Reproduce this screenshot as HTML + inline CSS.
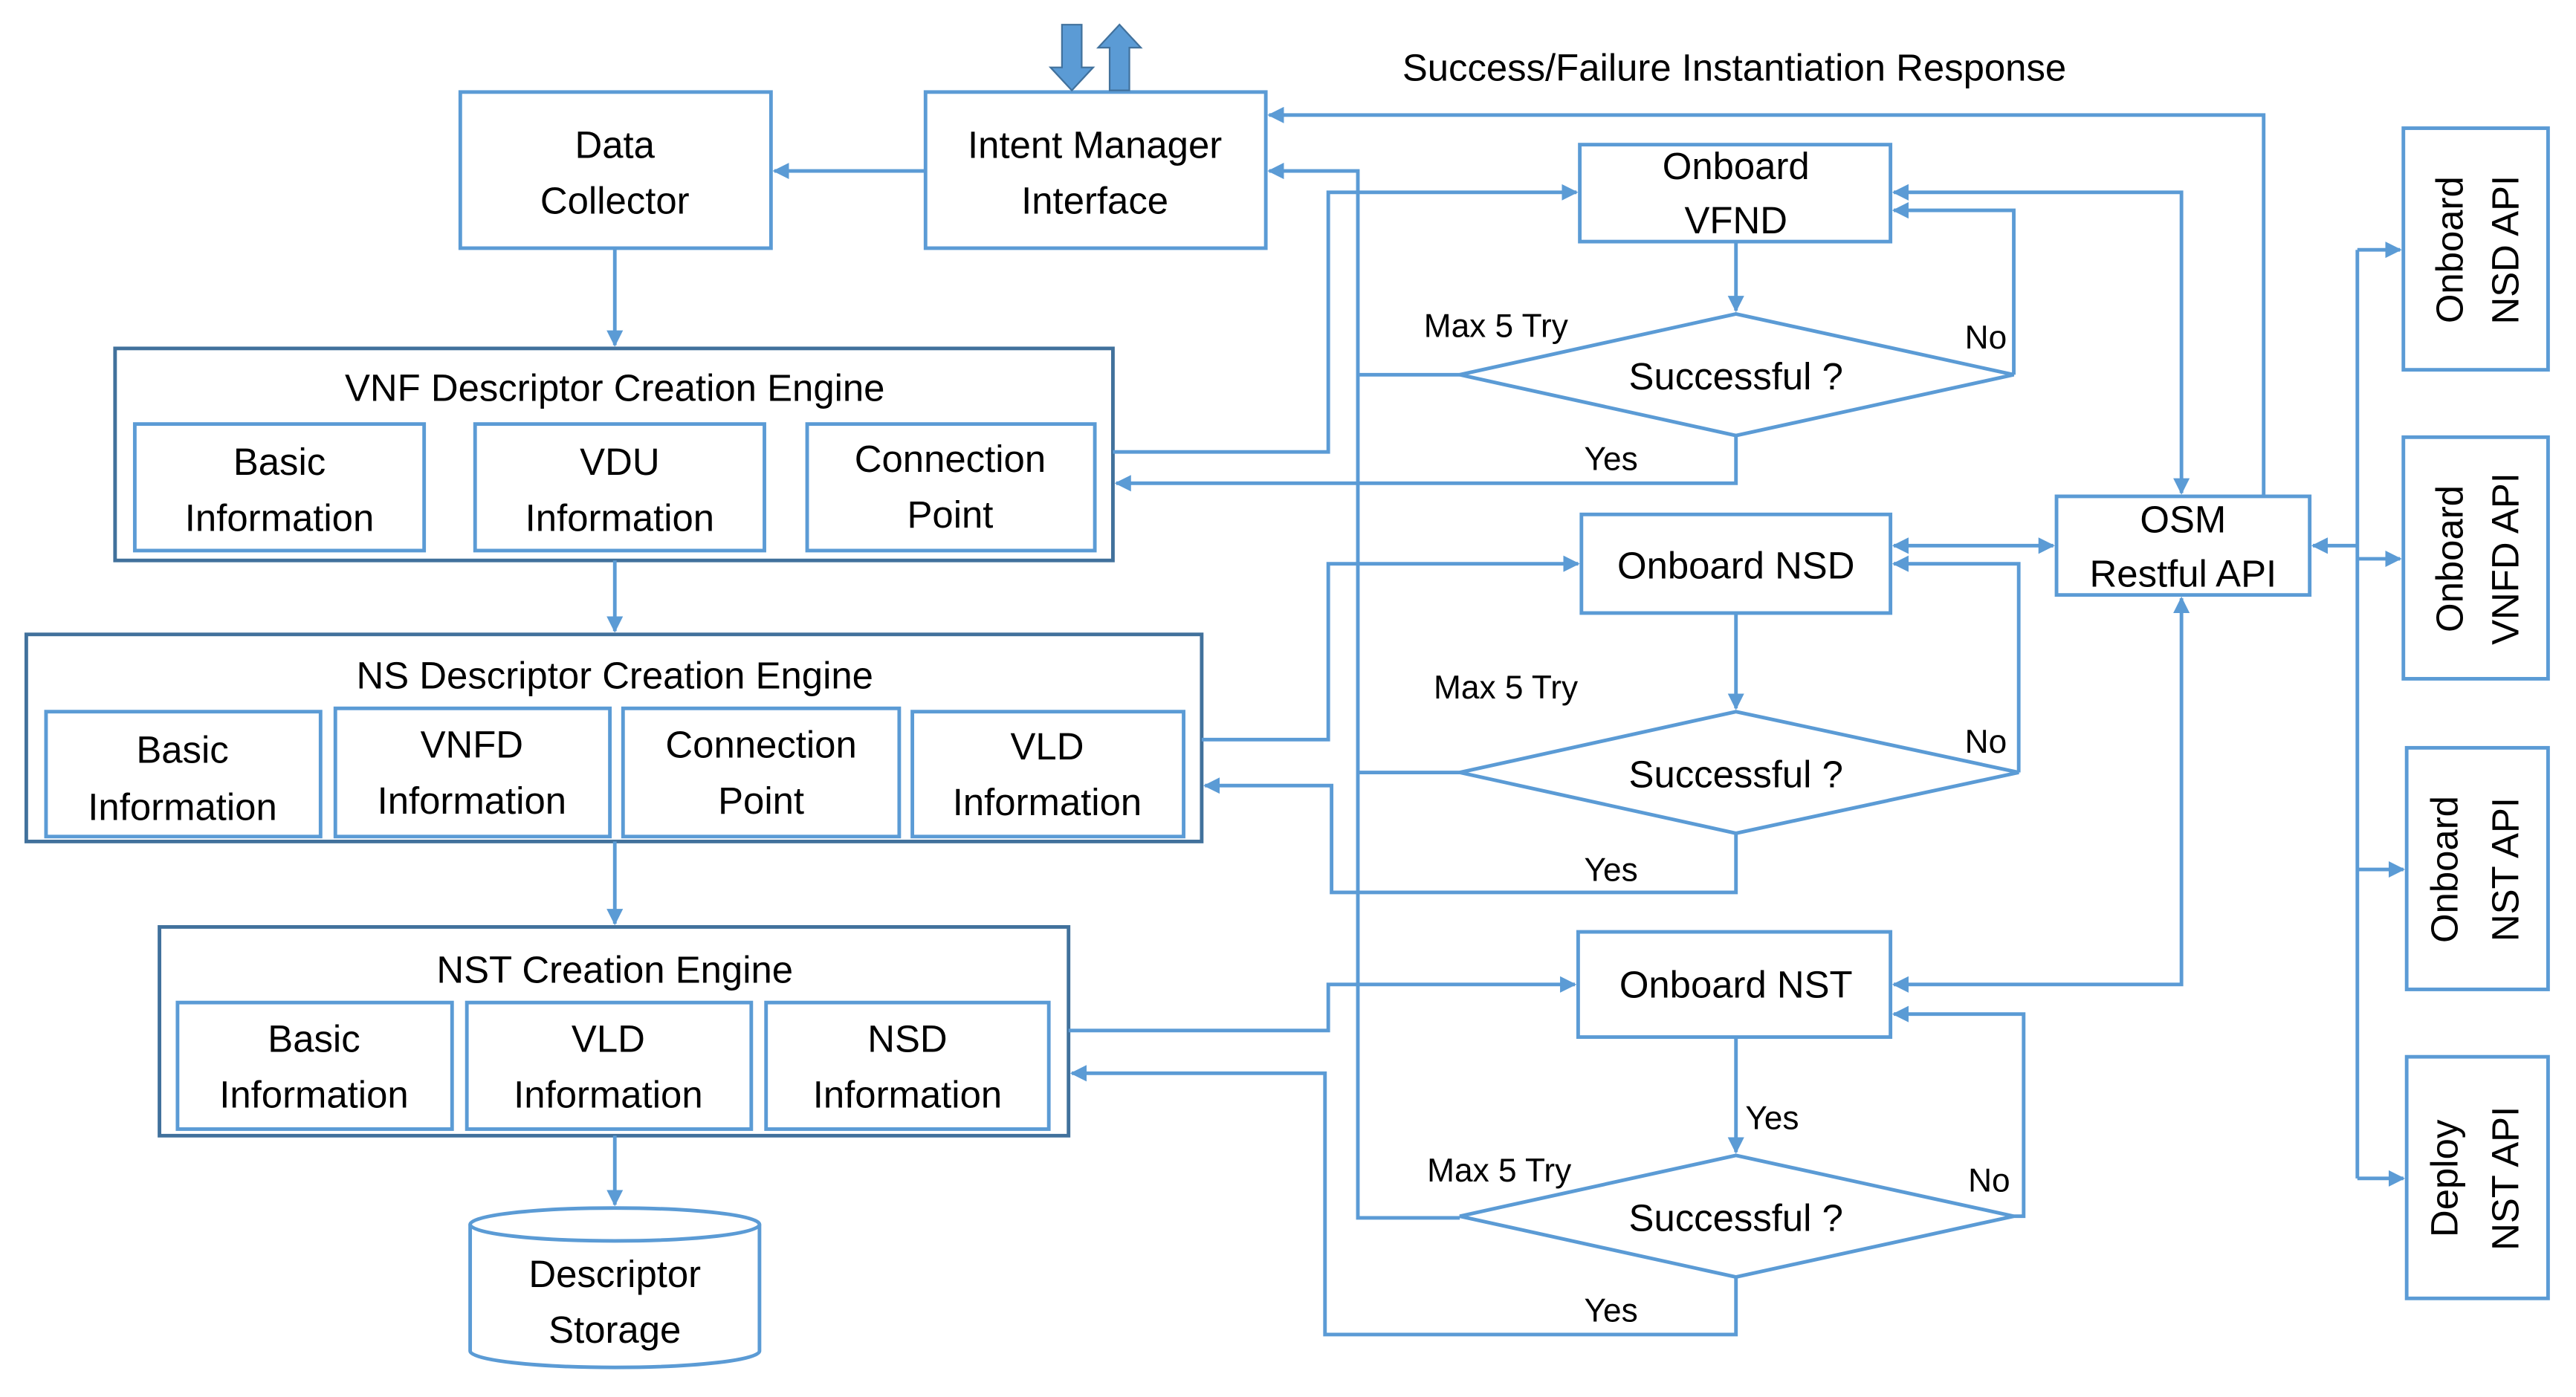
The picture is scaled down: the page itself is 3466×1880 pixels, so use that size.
<!DOCTYPE html>
<html><head><meta charset="utf-8"><style>
html,body{margin:0;padding:0;background:#fff;}
svg{display:block;}
text{font-family:"Liberation Sans",sans-serif;fill:#000;}
</style></head><body>
<svg width="3466" height="1880" viewBox="0 0 1567 850" preserveAspectRatio="none" xmlns="http://www.w3.org/2000/svg">
<defs>
<marker id="a" markerWidth="10" markerHeight="10" refX="9" refY="5" orient="auto" markerUnits="userSpaceOnUse">
<path d="M0,0 L10,5 L0,10 z" fill="#5b9bd5"/></marker>
<marker id="s" markerWidth="10" markerHeight="10" refX="1" refY="5" orient="auto" markerUnits="userSpaceOnUse">
<path d="M10,0 L0,5 L10,10 z" fill="#5b9bd5"/></marker>
</defs>
<g fill="none" stroke="#5b9bd5" stroke-width="2.2">
<rect x="280" y="56" width="189" height="95"/>
<rect x="563" y="56" width="207" height="95"/>
<rect x="82" y="258" width="176" height="77"/>
<rect x="289" y="258" width="176" height="77"/>
<rect x="491" y="258" width="175" height="77"/>
<rect x="28" y="433" width="167" height="76"/>
<rect x="204" y="431" width="167" height="78"/>
<rect x="379" y="431" width="168" height="78"/>
<rect x="555" y="433" width="165" height="76"/>
<rect x="108" y="610" width="167" height="77"/>
<rect x="284" y="610" width="173" height="77"/>
<rect x="466" y="610" width="172" height="77"/>
<rect x="961" y="88" width="189" height="59"/>
<rect x="962" y="313" width="188" height="60"/>
<rect x="960" y="567" width="190" height="64"/>
<rect x="1251" y="302" width="154" height="60"/>
<rect x="1462" y="78" width="88" height="147"/>
<rect x="1462" y="266" width="88" height="147"/>
<rect x="1464" y="455" width="86" height="147"/>
<rect x="1464" y="643" width="86" height="147"/>
<polygon points="888,228 1056,191 1225,228 1056,265"/>
<polygon points="888,470 1056,433 1228,470 1056,507"/>
<polygon points="888,740 1056,703 1225,740 1056,777"/>
<path d="M286,745 L286,822 A88,10 0 0 0 462,822 L462,745"/>
<ellipse cx="374" cy="745" rx="88" ry="10"/>
</g>
<g fill="none" stroke="#41719c" stroke-width="2.2">
<rect x="70" y="212" width="607" height="129"/>
<rect x="16" y="386" width="715" height="126"/>
<rect x="97" y="564" width="553" height="127"/>
</g>
<g fill="none" stroke="#5b9bd5" stroke-width="2.2">
<line x1="563" y1="104" x2="471" y2="104" marker-end="url(#a)"/>
<line x1="374" y1="151" x2="374" y2="210" marker-end="url(#a)"/>
<line x1="374" y1="341" x2="374" y2="384" marker-end="url(#a)"/>
<line x1="374" y1="512" x2="374" y2="562" marker-end="url(#a)"/>
<line x1="374" y1="691" x2="374" y2="733" marker-end="url(#a)"/>
<polyline points="1377,302 1377,70 772,70" marker-end="url(#a)"/>
<polyline points="888,741 826,741 826,104 772,104" marker-end="url(#a)"/>
<line x1="826" y1="228" x2="888" y2="228"/>
<line x1="826" y1="470" x2="888" y2="470"/>
<polyline points="677,275 808,275 808,117 959,117" marker-end="url(#a)"/>
<polyline points="1056,265 1056,294 679,294" marker-end="url(#a)"/>
<polyline points="1225,228 1225,128 1152,128" marker-end="url(#a)"/>
<polyline points="1152,117 1327,117 1327,300" marker-start="url(#s)" marker-end="url(#a)"/>
<line x1="1056" y1="147" x2="1056" y2="189" marker-end="url(#a)"/>
<polyline points="731,450 808,450 808,343 960,343" marker-end="url(#a)"/>
<line x1="1152" y1="332" x2="1249" y2="332" marker-start="url(#s)" marker-end="url(#a)"/>
<polyline points="1228,470 1228,343 1152,343" marker-end="url(#a)"/>
<line x1="1056" y1="373" x2="1056" y2="431" marker-end="url(#a)"/>
<polyline points="1056,507 1056,543 810,543 810,478 733,478" marker-end="url(#a)"/>
<polyline points="650,627 808,627 808,599 958,599" marker-end="url(#a)"/>
<polyline points="1152,599 1327,599 1327,364" marker-start="url(#s)" marker-end="url(#a)"/>
<polyline points="1225,740 1231,740 1231,617 1152,617" marker-end="url(#a)"/>
<line x1="1056" y1="631" x2="1056" y2="701" marker-end="url(#a)"/>
<polyline points="1056,777 1056,812 806,812 806,653 652,653" marker-end="url(#a)"/>
<line x1="1434" y1="152" x2="1434" y2="717"/>
<line x1="1434" y1="332" x2="1407" y2="332" marker-end="url(#a)"/>
<line x1="1434" y1="152" x2="1460" y2="152" marker-end="url(#a)"/>
<line x1="1434" y1="340" x2="1460" y2="340" marker-end="url(#a)"/>
<line x1="1434" y1="529" x2="1462" y2="529" marker-end="url(#a)"/>
<line x1="1434" y1="717" x2="1462" y2="717" marker-end="url(#a)"/>
</g>
<path d="M646,15 L658,15 L658,41 L665,41 L652,55 L639,41 L646,41 z" fill="#5b9bd5" stroke="#41719c" stroke-width="1"/>
<path d="M675,55 L687,55 L687,29 L694,29 L681,15 L668,29 L675,29 z" fill="#5b9bd5" stroke="#41719c" stroke-width="1"/>
<g font-size="23" text-anchor="middle">
<text x="374" y="96">Data</text><text x="374" y="130">Collector</text>
<text x="666" y="96">Intent Manager</text><text x="666" y="130">Interface</text>
<text x="374" y="244">VNF Descriptor Creation Engine</text>
<text x="170" y="289">Basic</text><text x="170" y="323">Information</text>
<text x="377" y="289">VDU</text><text x="377" y="323">Information</text>
<text x="578" y="287">Connection</text><text x="578" y="321">Point</text>
<text x="374" y="419">NS Descriptor Creation Engine</text>
<text x="111" y="464">Basic</text><text x="111" y="499">Information</text>
<text x="287" y="461">VNFD</text><text x="287" y="495">Information</text>
<text x="463" y="461">Connection</text><text x="463" y="495">Point</text>
<text x="637" y="462">VLD</text><text x="637" y="496">Information</text>
<text x="374" y="598">NST Creation Engine</text>
<text x="191" y="640">Basic</text><text x="191" y="674">Information</text>
<text x="370" y="640">VLD</text><text x="370" y="674">Information</text>
<text x="552" y="640">NSD</text><text x="552" y="674">Information</text>
<text x="374" y="783">Descriptor</text><text x="374" y="817">Storage</text>
<text x="1056" y="109">Onboard</text><text x="1056" y="142">VFND</text>
<text x="1056" y="352">Onboard NSD</text>
<text x="1056" y="607">Onboard NST</text>
<text x="1056" y="237">Successful ?</text>
<text x="1056" y="479">Successful ?</text>
<text x="1056" y="749">Successful ?</text>
<text x="1328" y="324">OSM</text><text x="1328" y="357">Restful API</text>
<text x="1055" y="49">Success/Failure Instantiation Response</text>
<g transform="translate(1498,152) rotate(-90)"><text x="0" y="0">Onboard</text><text x="0" y="34">NSD API</text></g>
<g transform="translate(1498,340) rotate(-90)"><text x="0" y="0">Onboard</text><text x="0" y="34">VNFD API</text></g>
<g transform="translate(1495,529) rotate(-90)"><text x="0" y="0">Onboard</text><text x="0" y="37">NST API</text></g>
<g transform="translate(1495,717) rotate(-90)"><text x="0" y="0">Deploy</text><text x="0" y="37">NST API</text></g>
</g>
<g font-size="20" text-anchor="middle">
<text x="910" y="205">Max 5 Try</text>
<text x="1208" y="212">No</text>
<text x="980" y="286">Yes</text>
<text x="916" y="425">Max 5 Try</text>
<text x="1208" y="458">No</text>
<text x="980" y="536">Yes</text>
<text x="1078" y="687">Yes</text>
<text x="912" y="719">Max 5 Try</text>
<text x="1210" y="725">No</text>
<text x="980" y="804">Yes</text>
</g>
</svg>
</body></html>
